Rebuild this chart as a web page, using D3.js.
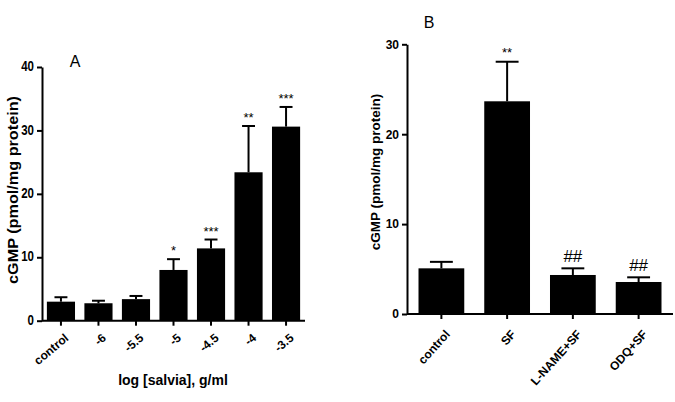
<!DOCTYPE html>
<html><head><meta charset="utf-8">
<script src="https://cdn.jsdelivr.net/npm/d3@7"></script>
<style>
html,body{margin:0;padding:0;background:#fff;}
svg text{font-family:"Liberation Sans",Arial,sans-serif;fill:#000;}
</style></head>
<body><svg id="c" width="675" height="402"></svg>
<script>
// Panel A data
const catsA = ["control","-6","-5.5","-5","-4.5","-4","-3.5"];
const meanA = [3.0, 2.75, 3.4, 8.0, 11.4, 23.4, 30.6];
const semA  = [0.7, 0.4, 0.5, 1.7, 1.4, 7.3, 3.1];
const sigA  = ["", "", "", "*", "***", "**", "***"];
const ticksA = [0,10,20,30,40];
// Panel B data
const catsB = ["control","SF","L-NAME+SF","ODQ+SF"];
const meanB = [5.08, 23.66, 4.34, 3.56];
const semB  = [0.72, 4.4, 0.74, 0.52];
const sigB  = ["", "**", "##", "##"];
const ticksB = [0,10,20,30];

const svg = d3.select("#c");

function panel(o){
  const g = svg.append("g");
  const y = d3.scaleLinear().domain(o.domain).range([o.y0, o.y1]);
  const x = d3.scaleBand().domain(o.cats).range([o.x0, o.x1])
      .paddingInner(o.pi).paddingOuter(o.po);
  g.selectAll("rect.bar").data(o.cats).enter().append("rect")
    .attr("x", d=>x(d)).attr("width", x.bandwidth())
    .attr("y", (d,i)=>y(o.mean[i])).attr("height",(d,i)=>y(0)-y(o.mean[i]))
    .attr("fill","#000");
  const cap = x.bandwidth()*o.cap;
  o.cats.forEach((d,i)=>{
    const cx = x(d)+x.bandwidth()/2;
    const top = y(o.mean[i]+o.sem[i]);
    g.append("line").attr("x1",cx).attr("x2",cx).attr("y1",y(o.mean[i])).attr("y2",top)
      .attr("stroke","#000").attr("stroke-width",2);
    g.append("line").attr("x1",cx-cap/2).attr("x2",cx+cap/2).attr("y1",top).attr("y2",top)
      .attr("stroke","#000").attr("stroke-width",2);
    if(o.sig[i]){
      const isHash = o.sig[i].indexOf("#")>=0;
      g.append("text").attr("x",cx).attr("y", top - (isHash?o.hashOff:o.starOff))
        .attr("text-anchor","middle")
        .style("font-size",(isHash?o.hashSize:o.starSize)+"px")
        .text(o.sig[i]);
    }
  });
  const ya = g.append("g").attr("transform",`translate(${o.x0},0)`)
    .call(d3.axisLeft(y).tickValues(o.ticks).tickSize(5).tickSizeOuter(0).tickPadding(3));
  ya.select(".domain").attr("stroke-width",2);
  ya.selectAll(".tick line").attr("stroke-width",2);
  ya.selectAll("text").style("font-size",o.tickSize+"px").style("font-weight","bold")
    .attr("y",0).attr("dy",(0.32/o.vs)+"em")
    .attr("transform",`scale(1,${o.vs})`);
  const xa = g.append("g").attr("transform",`translate(0,${o.y0})`)
    .call(d3.axisBottom(x).tickSize(5).tickSizeOuter(0));
  xa.select(".domain").attr("stroke-width",2).attr("d",`M${o.x0},0H${o.x1}`);
  xa.selectAll(".tick line").attr("stroke-width",2);
  xa.selectAll("text").style("font-size",o.xtickSize+"px").style("font-weight","bold")
    .attr("text-anchor","end").attr("dy","0.71em").attr("y",0).attr("x",0)
    .attr("transform",`translate(${o.lx},${o.ly}) rotate(${o.rot})`);
  const yt = g.append("text")
    .attr("transform",`translate(${o.ytx},${o.yty}) rotate(-90)`)
    .attr("text-anchor","middle").attr("dy","0.35em")
    .style("font-size",o.ytSize+"px").style("font-weight","bold")
    .text("cGMP (pmol/mg protein)");
  if(o.ytLen) yt.attr("textLength",o.ytLen).attr("lengthAdjust","spacingAndGlyphs");
  g.append("text").attr("x",o.px).attr("y",o.py).attr("text-anchor","middle")
    .style("font-size","16px").text(o.letter);
  return g;
}

panel({cats:catsA, mean:meanA, sem:semA, sig:sigA, ticks:ticksA, domain:[0,40],
  y0:320.7, y1:67, x0:42, x1:305, pi:0.25, po:0.13, cap:0.46,
  starOff:4, hashOff:6, starSize:13, hashSize:17, tickSize:11.5, vs:1.2, xtickSize:12,
  lx:3, ly:12, rot:-40, ytx:13, yty:190, ytSize:14, ytLen:188, px:75, py:67, letter:"A"});

panel({cats:catsB, mean:meanB, sem:semB, sig:sigB, ticks:ticksB, domain:[0,30],
  y0:314, y1:44.3, x0:407, x1:673, pi:0.304, po:0.175, cap:0.5,
  starOff:5, hashOff:6, starSize:13, hashSize:17, tickSize:12, vs:1, xtickSize:12,
  lx:3, ly:15, rot:-48, ytx:375, yty:172, ytSize:13.5, ytLen:null, px:429, py:28, letter:"B"});

svg.append("text").attr("x",173).attr("y",385).attr("text-anchor","middle")
  .style("font-size","14px").style("font-weight","bold").text("log [salvia], g/ml");
</script>
</body></html>
